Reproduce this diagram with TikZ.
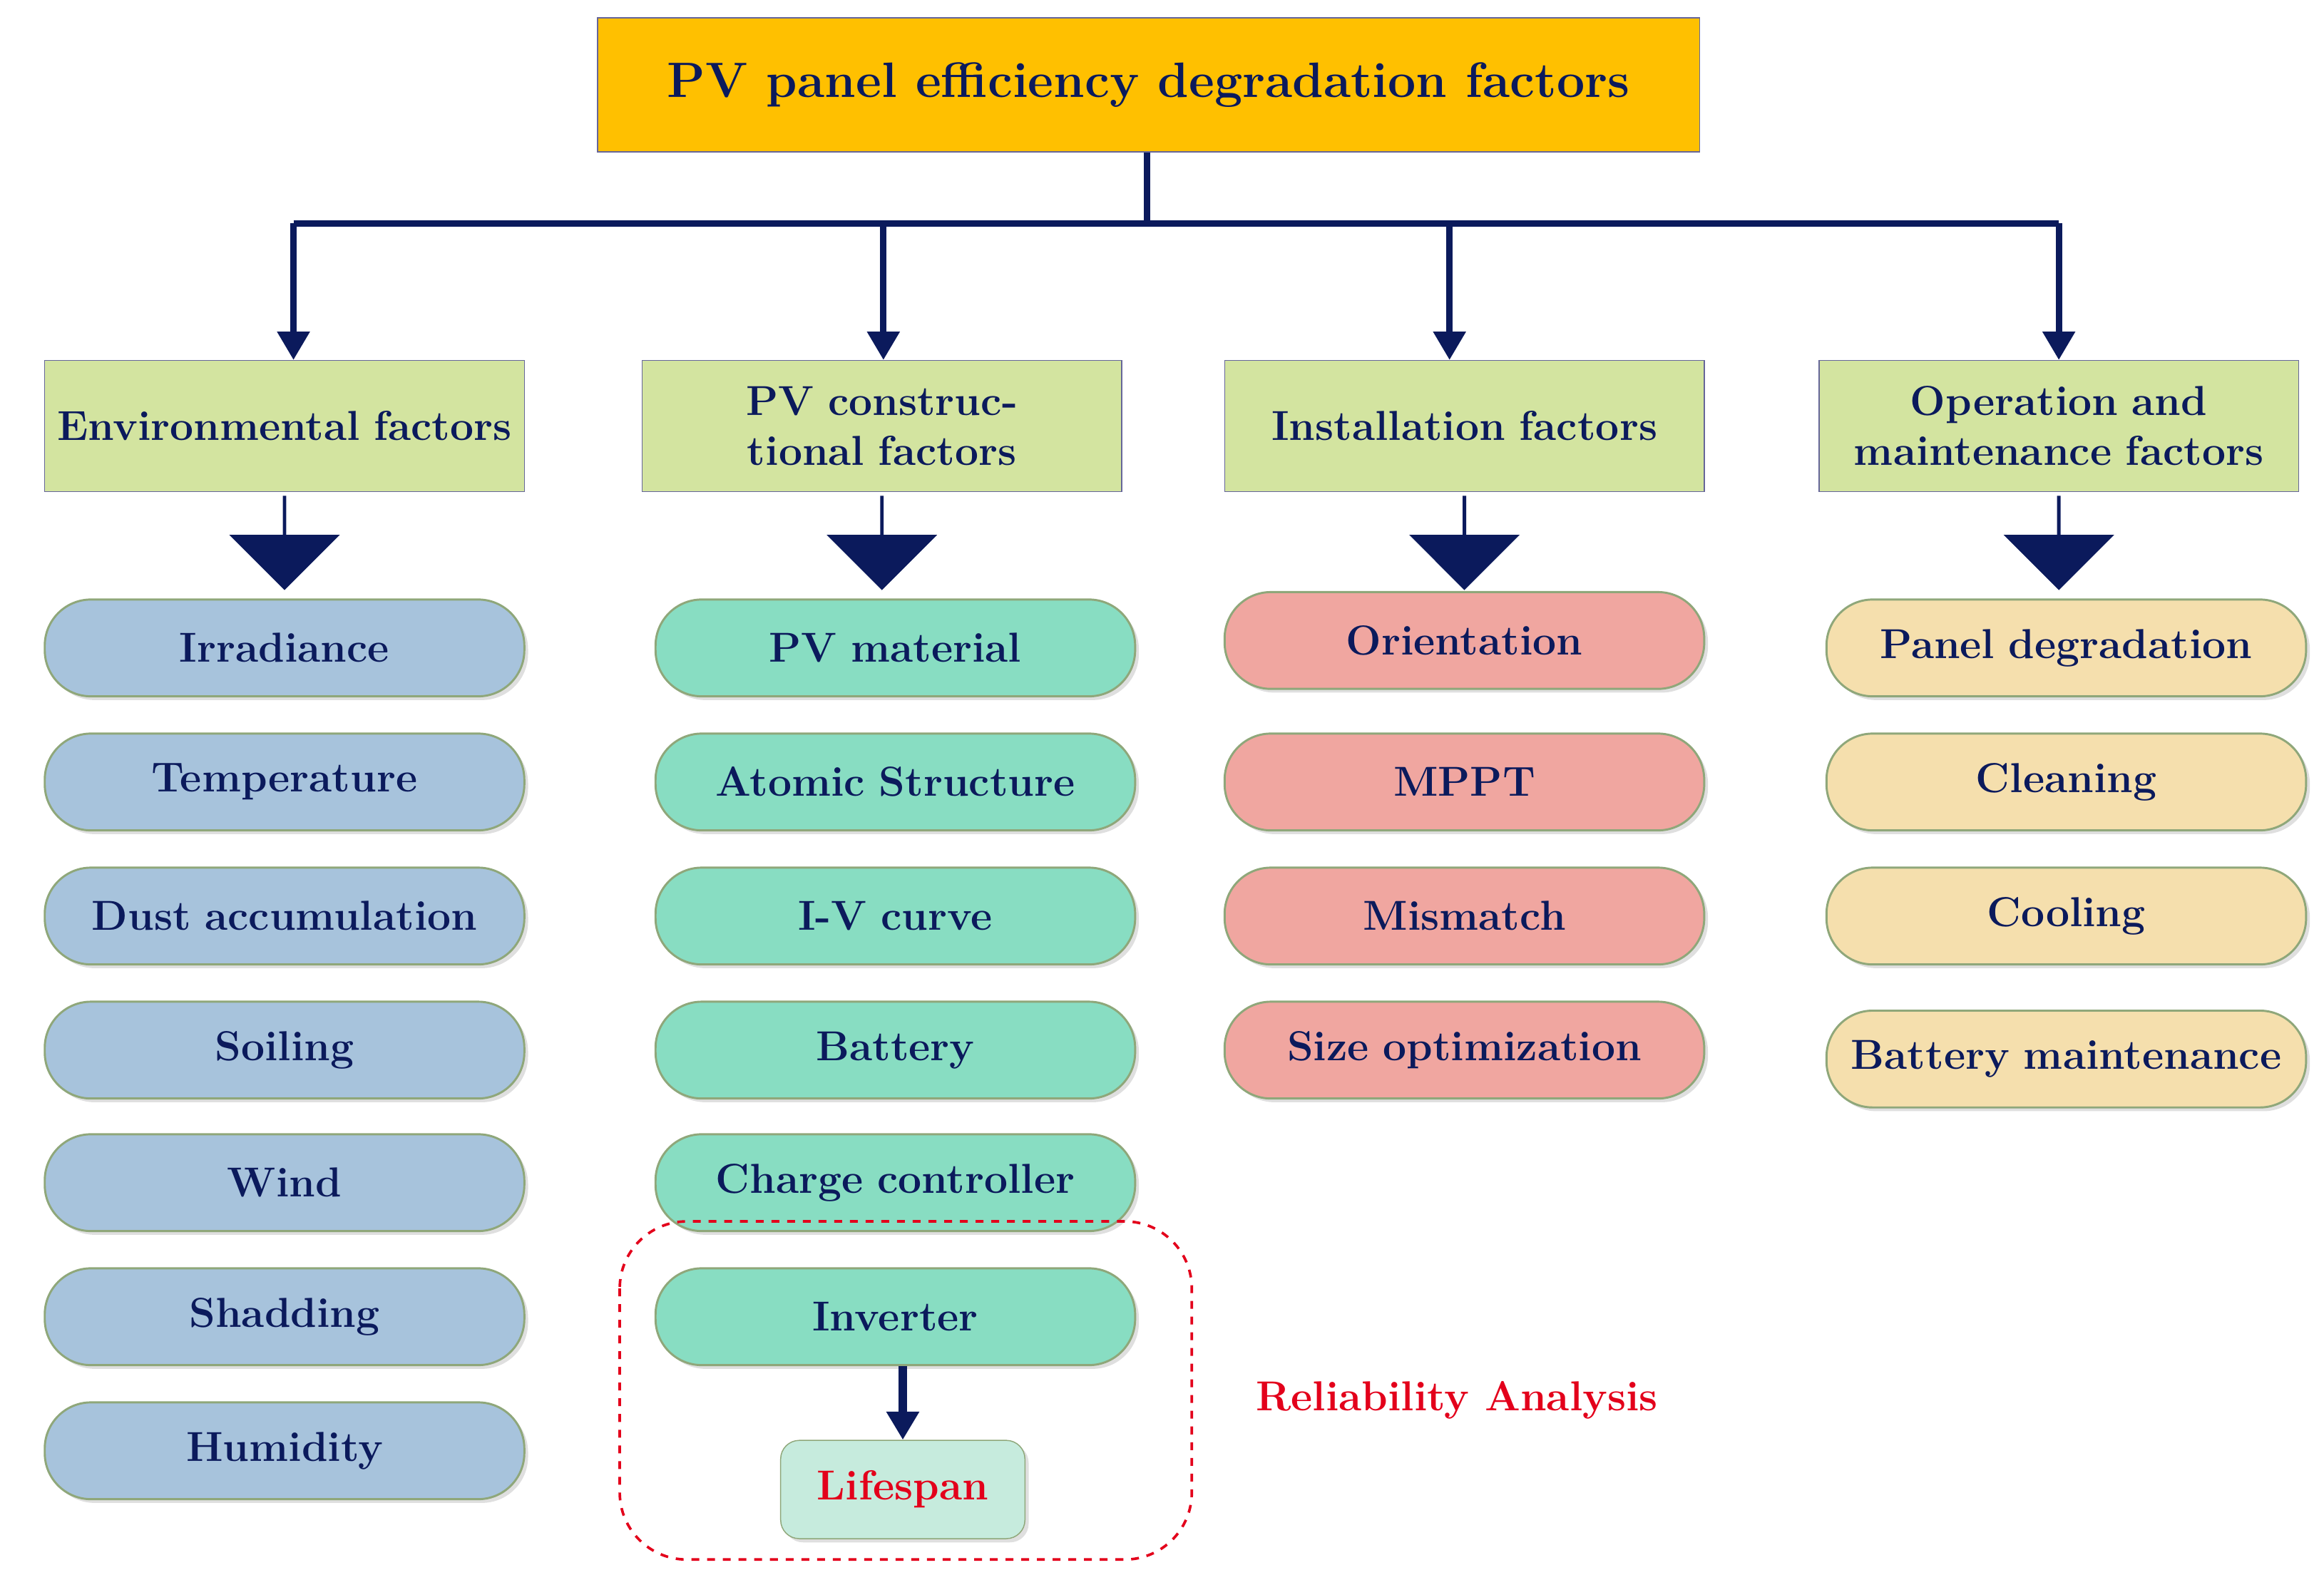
\documentclass[tikz,border=0pt]{standalone}
\usetikzlibrary{arrows.meta,shapes.arrows,shadows}
\definecolor{navy}{HTML}{0B1A5C}
\definecolor{ttl}{HTML}{FFC000}
\definecolor{cat}{HTML}{D3E4A0}
\definecolor{envc}{HTML}{A7C3DC}
\definecolor{conc}{HTML}{88DDC2}
\definecolor{insc}{HTML}{F0A6A0}
\definecolor{opc}{HTML}{F5DFAD}
\definecolor{lifc}{HTML}{C6EBDD}
\definecolor{rd}{HTML}{E3001B}
\definecolor{bord}{HTML}{8FA77A}
\tikzset{
 txt/.style={font=\bfseries\fontsize{16}{19}\selectfont, text=navy, align=center},
 catb/.style={txt, draw=gray!80!blue, fill=cat, minimum width=6.44cm, minimum height=1.76cm, text width=6.2cm},
 pill/.style={txt, draw=bord, line width=0.8pt, rounded corners=0.62cm, minimum width=6.44cm, minimum height=1.3cm, text width=6.2cm, drop shadow={opacity=0.25,shadow xshift=0.5mm,shadow yshift=-0.5mm}},
 conn/.style={draw=navy, line width=2.4pt},
 arr/.style={conn, -{Triangle[length=0.38cm,width=0.42cm]}},
 blk/.style={single arrow, fill=navy, draw=navy, shape border rotate=270, minimum height=1.25cm, minimum width=1.45cm, single arrow head extend=0.3cm, inner sep=0pt, single arrow tip angle=90},
}
\begin{document}
\begin{tikzpicture}[x=0.02cm,y=-0.02cm]
\useasboundingbox (0,0) rectangle (1560,1057);
\node[txt, draw=gray!80!blue, fill=ttl, minimum width=14.8cm, minimum height=1.8cm, font=\bfseries\fontsize{19}{22}\selectfont] (title) at (771,57) {PV panel efficiency degradation factors};
\node[catb] (c1) at (191,286) {Environmental factors};
\node[catb] (c2) at (592,286) {PV constructional factors};
\node[catb] (c3) at (983,286) {Installation factors};
\node[catb] (c4) at (1382,286) {Operation and maintenance factors};
\coordinate (j) at (770,150);
\coordinate (h1) at (197,150); \coordinate (h2) at (593,150);
\coordinate (h3) at (973,150); \coordinate (h4) at (1382,150);
\draw[conn] (title.south -| j) -- (j);
\draw[conn] (h1) -- (h4);
\draw[arr] (h1) -- (h1 |- c1.north);
\draw[arr] (h2) -- (h2 |- c2.north);
\draw[arr] (h3) -- (h3 |- c3.north);
\draw[arr] (h4) -- (h4 |- c4.north);
\node[blk] (b1) at (191,364) {};
\node[blk] (b2) at (592,364) {};
\node[blk] (b3) at (983,364) {};
\node[blk] (b4) at (1382,364) {};
\foreach \n/\t/\y in {e1/Irradiance/435,e2/Temperature/525,e3/Dust accumulation/615,e4/Soiling/705,e5/Wind/794,e6/Shadding/884,e7/Humidity/974}
  \node[pill, fill=envc] (\n) at (191,\y) {\t};
\foreach \n/\t/\y in {p1/PV material/435,p2/Atomic Structure/525,p3/I-V curve/615,p4/Battery/705,p5/Charge controller/794,p6/Inverter/884}
  \node[pill, fill=conc] (\n) at (601,\y) {\t};
\foreach \n/\t/\y in {i1/Orientation/430,i2/MPPT/525,i3/Mismatch/615,i4/Size optimization/705}
  \node[pill, fill=insc] (\n) at (983,\y) {\t};
\foreach \n/\t/\y in {o1/Panel degradation/435,o2/Cleaning/525,o3/Cooling/615}
  \node[pill, fill=opc] (\n) at (1387,\y) {\t};
\node[pill, fill=opc, font=\bfseries\fontsize{16}{17}\selectfont] (o4) at (1387,711) {Battery maintenance};
\node[txt, draw=bord, fill=lifc, rounded corners=0.25cm, minimum width=3.28cm, minimum height=1.32cm, text=rd, drop shadow={opacity=0.25,shadow xshift=0.5mm,shadow yshift=-0.5mm}] (life) at (606,1000) {Lifespan};
\draw[arr, line width=3pt] (p6.south -| life) -- (life.north);
\draw[rd, dashed, line width=1pt, rounded corners=0.9cm] (416,820) rectangle (800,1047);
\node[txt, text=rd] (rel) at (978,940) {Reliability Analysis};
\end{tikzpicture}
\end{document}
